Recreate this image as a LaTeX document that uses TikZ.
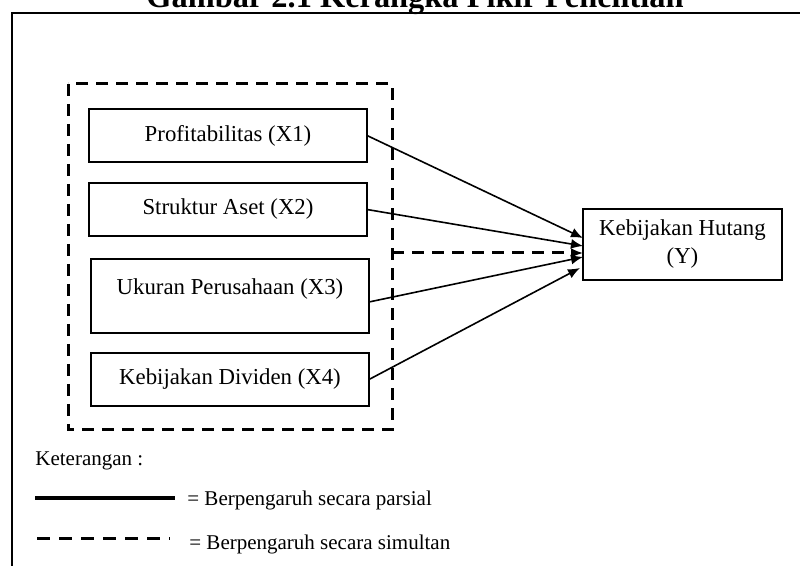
\documentclass[tikz,border=0pt]{standalone}
\usepackage{fontspec}
\setmainfont{Liberation Serif}
\usepackage{tikz}
\usetikzlibrary{arrows.meta}

\begin{document}
\begin{tikzpicture}[x=0.5pt, y=-0.5pt, >={Latex[length=6pt,width=5pt]},
    varbox/.style={draw, line width=0.8pt, minimum width=139pt, minimum height=26.5pt,
        inner sep=0pt, outer sep=0pt, font=\fontsize{11.4}{14}\selectfont},
    simulline/.style={line width=1.5pt, dash pattern=on 6pt off 4pt},
    legendtext/.style={anchor=base west, inner sep=0pt, font=\fontsize{10.5}{12}\selectfont}]
    \useasboundingbox (0,0) rectangle (800,566);

    % Title and frame
    \node[font=\fontsize{16.2}{19}\selectfont\bfseries, anchor=base] (title) at (415,8) {Gambar 2.1 Kerangka Pikir Penelitian};
    \draw[line width=1pt] (12,570) -- (12,13) -- (805,13);

    % Independent variables
    \node[varbox] (x1) at (228,135.5) {Profitabilitas (X1)};
    \node[varbox] (x2) at (228,209.5) {Struktur Aset (X2)};
    \node[varbox, minimum height=37pt, text depth=9pt] (x3) at (230,296) {Ukuran Perusahaan (X3)};
    \node[varbox] (x4) at (230,379.5) {Kebijakan Dividen (X4)};

    % Dependent variable
    \node[varbox, minimum width=99.5pt, minimum height=35.5pt, align=center] (y) at (682.5,244.5) {Kebijakan Hutang\\(Y)};

    % Simultaneous group
    \draw[simulline] (68,84) rectangle (392,430);
    \coordinate (simul) at (392,253);

    % Arrows
    \draw[->, line width=0.8pt] (x1.east) -- ([yshift=3.25pt]y.west);
    \draw[->, line width=0.8pt] (x2.east) -- ([yshift=-0.75pt]y.west);
    \draw[->, line width=0.8pt] ([yshift=-3pt]x3.east) -- ([yshift=-6.25pt]y.west);
    \draw[->, line width=0.8pt] (x4.east) -- ([xshift=-1.5pt,yshift=-11.75pt]y.west);
    \draw[->, simulline] (simul) -- ([yshift=-4.25pt]y.west);

    % Legend
    \node[legendtext] (ket) at (35,466) {Keterangan :};
    \draw[line width=1.6pt] (35,498) -- (175,498);
    \node[legendtext] (parsial) at (187,506) {= Berpengaruh secara parsial};
    \draw[simulline, dash pattern=on 6.5pt off 4.5pt] (37,539) -- (170,539);
    \node[legendtext] (simultan) at (189,550) {= Berpengaruh secara simultan};
\end{tikzpicture}
\end{document}
